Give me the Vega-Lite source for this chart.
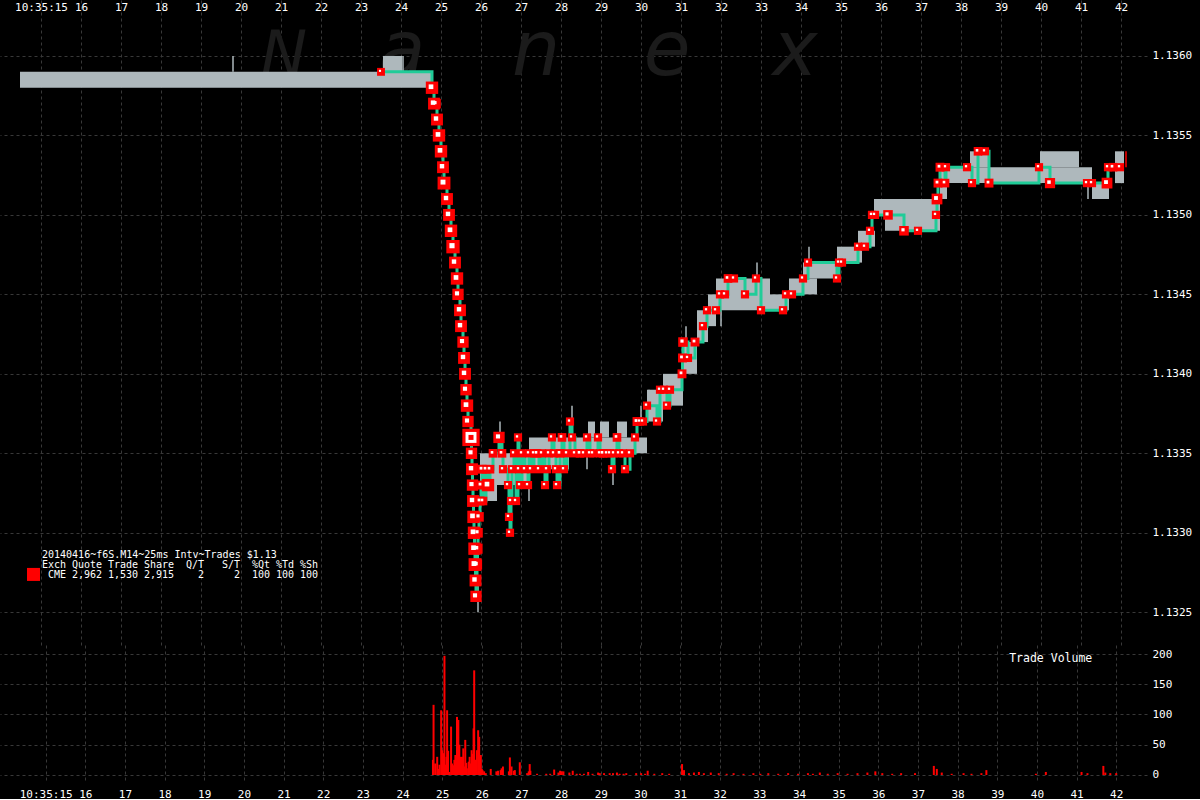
{
 "$schema": "https://vega.github.io/schema/vega-lite/v6.json",
 "background": "#000000",
 "padding": {"left": 0, "top": 0, "right": 8, "bottom": 0},
 "spacing": 0,
 "config": {
  "view": {"stroke": null},
  "font": "DejaVu Sans Mono",
  "axis": {"domain": false, "ticks": false, "labelColor": "#ffffff", "labelFont": "DejaVu Sans Mono", "labelFontSize": 11, "gridColor": "#383838", "gridDash": [3, 3], "gridWidth": 1}
 },
 "datasets": {
  "bands": [
   {"a":14.475,"b":24.775,"lo":1.1358,"hi":1.1359},
   {"a":23.55,"b":24.025,"lo":1.1359,"hi":1.1360},
   {"a":25.975,"b":26.4,"lo":1.1332,"hi":1.1335},
   {"a":26.4,"b":27.2,"lo":1.1333,"hi":1.1335},
   {"a":27.2,"b":28.2,"lo":1.1334,"hi":1.1336},
   {"a":28.2,"b":30.15,"lo":1.1335,"hi":1.1336},
   {"a":28.675,"b":28.85,"lo":1.1336,"hi":1.1337},
   {"a":28.975,"b":29.2,"lo":1.1336,"hi":1.1337},
   {"a":29.4,"b":29.65,"lo":1.1336,"hi":1.1337},
   {"a":30.15,"b":30.55,"lo":1.1337,"hi":1.1339},
   {"a":30.55,"b":31.05,"lo":1.1338,"hi":1.1340},
   {"a":31.05,"b":31.4,"lo":1.1340,"hi":1.1342},
   {"a":31.4,"b":31.675,"lo":1.1342,"hi":1.1344},
   {"a":31.675,"b":31.875,"lo":1.1343,"hi":1.1345},
   {"a":31.875,"b":33.225,"lo":1.1344,"hi":1.1346},
   {"a":33.225,"b":33.7,"lo":1.1344,"hi":1.1345},
   {"a":33.7,"b":34.4,"lo":1.1345,"hi":1.1346},
   {"a":34.05,"b":34.9,"lo":1.1346,"hi":1.1347},
   {"a":34.9,"b":35.525,"lo":1.1347,"hi":1.1348},
   {"a":35.425,"b":35.85,"lo":1.1348,"hi":1.1349},
   {"a":35.825,"b":36.1,"lo":1.1350,"hi":1.1351},
   {"a":36.1,"b":37.475,"lo":1.1349,"hi":1.1351},
   {"a":37.475,"b":37.65,"lo":1.1351,"hi":1.1353},
   {"a":37.65,"b":41.275,"lo":1.1352,"hi":1.1353},
   {"a":38.225,"b":38.725,"lo":1.1353,"hi":1.1354},
   {"a":39.975,"b":40.95,"lo":1.1353,"hi":1.1354},
   {"a":41.275,"b":41.7,"lo":1.1351,"hi":1.1352},
   {"a":41.85,"b":42.075,"lo":1.1352,"hi":1.1354}
  ],
  "wicks": [
   {"t":19.8,"lo":1.1359,"hi":1.1360},
   {"t":24.05,"lo":1.1359,"hi":1.1360},
   {"t":25.925,"lo":1.1325,"hi":1.1327},
   {"t":26.475,"lo":1.13355,"hi":1.1337},
   {"t":27.2,"lo":1.1332,"hi":1.1333},
   {"t":28.275,"lo":1.1337,"hi":1.1338},
   {"t":28.65,"lo":1.1334,"hi":1.1335},
   {"t":29.3,"lo":1.1333,"hi":1.1334},
   {"t":30.0,"lo":1.1337,"hi":1.1338},
   {"t":30.2,"lo":1.1338,"hi":1.1339},
   {"t":31.125,"lo":1.1342,"hi":1.1343},
   {"t":32.0,"lo":1.1343,"hi":1.1344},
   {"t":32.9,"lo":1.1346,"hi":1.1347},
   {"t":34.2,"lo":1.1347,"hi":1.1348},
   {"t":41.175,"lo":1.1351,"hi":1.1352}
  ],
  "redwicks": [
   {"t":42.125,"lo":1.1353,"hi":1.1354}
  ],
  "trades": [
   {"t":23.5,"p":1.1359,"v":3},
   {"t":24.775,"p":1.1358,"v":40},
   {"t":24.825,"p":1.1357,"v":35},
   {"t":24.875,"p":1.1357,"v":15},
   {"t":24.9,"p":1.1356,"v":35},
   {"t":24.95,"p":1.1355,"v":40},
   {"t":25.0,"p":1.1354,"v":40},
   {"t":25.05,"p":1.1353,"v":35},
   {"t":25.075,"p":1.1352,"v":45},
   {"t":25.15,"p":1.1351,"v":35},
   {"t":25.2,"p":1.1350,"v":35},
   {"t":25.25,"p":1.1349,"v":40},
   {"t":25.3,"p":1.1348,"v":50},
   {"t":25.35,"p":1.1347,"v":35},
   {"t":25.4,"p":1.1346,"v":40},
   {"t":25.425,"p":1.1345,"v":30},
   {"t":25.475,"p":1.1344,"v":35},
   {"t":25.5,"p":1.1343,"v":35},
   {"t":25.55,"p":1.1342,"v":30},
   {"t":25.575,"p":1.1341,"v":35},
   {"t":25.6,"p":1.1340,"v":35},
   {"t":25.625,"p":1.1339,"v":30},
   {"t":25.65,"p":1.1338,"v":40},
   {"t":25.675,"p":1.1337,"v":30},
   {"t":25.75,"p":1.1336,"v":100},
   {"t":25.7625,"p":1.1335,"v":30},
   {"t":25.775,"p":1.1334,"v":35},
   {"t":25.7875,"p":1.1333,"v":30},
   {"t":25.8,"p":1.1332,"v":35},
   {"t":25.8125,"p":1.1331,"v":40},
   {"t":25.825,"p":1.1330,"v":40},
   {"t":25.8375,"p":1.1329,"v":40},
   {"t":25.85,"p":1.1328,"v":45},
   {"t":25.8625,"p":1.1327,"v":35},
   {"t":25.875,"p":1.1326,"v":30},
   {"t":25.9,"p":1.1328,"v":20},
   {"t":25.9125,"p":1.1329,"v":20},
   {"t":25.925,"p":1.1330,"v":15},
   {"t":25.95,"p":1.1331,"v":15},
   {"t":25.975,"p":1.1332,"v":10},
   {"t":26.0,"p":1.1333,"v":10},
   {"t":26.025,"p":1.1334,"v":10},
   {"t":26.05,"p":1.1332,"v":8},
   {"t":26.125,"p":1.1334,"v":8},
   {"t":26.175,"p":1.1333,"v":40},
   {"t":26.225,"p":1.1334,"v":8},
   {"t":26.3,"p":1.1335,"v":8},
   {"t":26.45,"p":1.1336,"v":30},
   {"t":26.525,"p":1.1335,"v":8},
   {"t":26.55,"p":1.1334,"v":5},
   {"t":26.675,"p":1.1333,"v":5},
   {"t":26.7,"p":1.1331,"v":5},
   {"t":26.725,"p":1.1330,"v":5},
   {"t":26.75,"p":1.1332,"v":5},
   {"t":26.775,"p":1.1334,"v":5},
   {"t":26.825,"p":1.1335,"v":5},
   {"t":26.875,"p":1.1332,"v":5},
   {"t":26.925,"p":1.1336,"v":5},
   {"t":26.95,"p":1.1334,"v":5},
   {"t":26.975,"p":1.1333,"v":5},
   {"t":27.025,"p":1.1335,"v":5},
   {"t":27.1,"p":1.1334,"v":5},
   {"t":27.175,"p":1.1333,"v":5},
   {"t":27.2,"p":1.1335,"v":5},
   {"t":27.25,"p":1.1334,"v":5},
   {"t":27.325,"p":1.1335,"v":5},
   {"t":27.4,"p":1.1335,"v":8},
   {"t":27.45,"p":1.1334,"v":5},
   {"t":27.525,"p":1.1335,"v":5},
   {"t":27.6,"p":1.1333,"v":5},
   {"t":27.65,"p":1.1334,"v":5},
   {"t":27.7,"p":1.1335,"v":5},
   {"t":27.775,"p":1.1336,"v":5},
   {"t":27.825,"p":1.1335,"v":5},
   {"t":27.875,"p":1.1334,"v":5},
   {"t":27.9,"p":1.1333,"v":5},
   {"t":27.975,"p":1.1335,"v":8},
   {"t":28.025,"p":1.1336,"v":8},
   {"t":28.075,"p":1.1334,"v":5},
   {"t":28.15,"p":1.1335,"v":5},
   {"t":28.225,"p":1.1337,"v":5},
   {"t":28.275,"p":1.1336,"v":5},
   {"t":28.35,"p":1.1335,"v":5},
   {"t":28.475,"p":1.1335,"v":8},
   {"t":28.575,"p":1.1335,"v":5},
   {"t":28.65,"p":1.1336,"v":5},
   {"t":28.725,"p":1.1335,"v":5},
   {"t":28.8,"p":1.1335,"v":5},
   {"t":28.925,"p":1.1336,"v":5},
   {"t":28.975,"p":1.1335,"v":5},
   {"t":29.05,"p":1.1335,"v":8},
   {"t":29.15,"p":1.1335,"v":5},
   {"t":29.225,"p":1.1335,"v":5},
   {"t":29.275,"p":1.1334,"v":5},
   {"t":29.325,"p":1.1335,"v":5},
   {"t":29.4,"p":1.1336,"v":8},
   {"t":29.45,"p":1.1335,"v":5},
   {"t":29.55,"p":1.1335,"v":5},
   {"t":29.6,"p":1.1334,"v":5},
   {"t":29.725,"p":1.1335,"v":5},
   {"t":29.85,"p":1.1336,"v":5},
   {"t":29.9,"p":1.1337,"v":10},
   {"t":29.975,"p":1.1337,"v":5},
   {"t":30.05,"p":1.1337,"v":5},
   {"t":30.15,"p":1.1338,"v":5},
   {"t":30.4,"p":1.1337,"v":5},
   {"t":30.475,"p":1.1339,"v":5},
   {"t":30.575,"p":1.1339,"v":5},
   {"t":30.65,"p":1.1338,"v":5},
   {"t":30.725,"p":1.1339,"v":5},
   {"t":31.025,"p":1.1340,"v":10},
   {"t":31.0375,"p":1.1341,"v":10},
   {"t":31.05,"p":1.1342,"v":15},
   {"t":31.175,"p":1.1341,"v":5},
   {"t":31.35,"p":1.1342,"v":10},
   {"t":31.55,"p":1.1343,"v":5},
   {"t":31.65,"p":1.1344,"v":5},
   {"t":31.875,"p":1.1344,"v":5},
   {"t":31.975,"p":1.1345,"v":5},
   {"t":32.1,"p":1.1345,"v":5},
   {"t":32.175,"p":1.1346,"v":8},
   {"t":32.325,"p":1.1346,"v":5},
   {"t":32.6,"p":1.1345,"v":5},
   {"t":32.875,"p":1.1346,"v":5},
   {"t":33.0,"p":1.1344,"v":5},
   {"t":33.55,"p":1.1344,"v":5},
   {"t":33.625,"p":1.1345,"v":5},
   {"t":33.775,"p":1.1345,"v":5},
   {"t":34.05,"p":1.1346,"v":5},
   {"t":34.175,"p":1.1347,"v":5},
   {"t":34.9,"p":1.1346,"v":5},
   {"t":34.95,"p":1.1347,"v":5},
   {"t":35.025,"p":1.1347,"v":5},
   {"t":35.425,"p":1.1348,"v":5},
   {"t":35.6,"p":1.1348,"v":5},
   {"t":35.725,"p":1.1349,"v":5},
   {"t":35.775,"p":1.1350,"v":5},
   {"t":35.85,"p":1.1350,"v":5},
   {"t":36.175,"p":1.1350,"v":15},
   {"t":36.575,"p":1.1349,"v":15},
   {"t":36.925,"p":1.1349,"v":5},
   {"t":37.375,"p":1.1350,"v":5},
   {"t":37.4,"p":1.1351,"v":25},
   {"t":37.425,"p":1.1352,"v":10},
   {"t":37.475,"p":1.1353,"v":10},
   {"t":37.6,"p":1.1352,"v":8},
   {"t":37.625,"p":1.1353,"v":5},
   {"t":38.15,"p":1.1353,"v":5},
   {"t":38.275,"p":1.1352,"v":5},
   {"t":38.425,"p":1.1354,"v":8},
   {"t":38.6,"p":1.1354,"v":5},
   {"t":38.7,"p":1.1352,"v":10},
   {"t":39.95,"p":1.1353,"v":5},
   {"t":40.225,"p":1.1352,"v":20},
   {"t":41.15,"p":1.1352,"v":5},
   {"t":41.275,"p":1.1352,"v":5},
   {"t":41.65,"p":1.1352,"v":25},
   {"t":41.675,"p":1.1353,"v":5},
   {"t":41.8,"p":1.1353,"v":8},
   {"t":41.975,"p":1.1353,"v":5}
  ],
  "vol": [
   {"t":24.768,"v":25},{"t":24.783,"v":116},{"t":24.825,"v":19},{"t":24.875,"v":30},{"t":24.908,"v":10},{"t":24.933,"v":17},
   {"t":24.975,"v":107},{"t":25.0,"v":41},{"t":25.033,"v":36},{"t":25.058,"v":197},{"t":25.083,"v":17},{"t":25.108,"v":30},
   {"t":25.125,"v":107},{"t":25.15,"v":40},{"t":25.183,"v":5},{"t":25.225,"v":80},{"t":25.25,"v":19},{"t":25.283,"v":16},
   {"t":25.308,"v":25},{"t":25.333,"v":33},{"t":25.375,"v":96},{"t":25.408,"v":91},{"t":25.433,"v":50},{"t":25.458,"v":30},
   {"t":25.475,"v":19},{"t":25.5,"v":30},{"t":25.533,"v":44},{"t":25.558,"v":14},{"t":25.583,"v":58},{"t":25.608,"v":20},
   {"t":25.625,"v":11},{"t":25.668,"v":22},{"t":25.693,"v":30},{"t":25.708,"v":19},{"t":25.743,"v":41},{"t":25.768,"v":35},
   {"t":25.793,"v":77},{"t":25.808,"v":173},{"t":25.833,"v":25},{"t":25.85,"v":25},{"t":25.875,"v":41},{"t":25.908,"v":74},
   {"t":25.933,"v":63},{"t":25.958,"v":30},{"t":25.975,"v":33},{"t":26.0,"v":10},{"t":26.018,"v":8},{"t":26.058,"v":6},
   {"t":26.1,"v":3},{"t":26.225,"v":10},{"t":26.368,"v":6},{"t":26.408,"v":7},{"t":26.475,"v":8},{"t":26.5,"v":11},
   {"t":26.533,"v":14},{"t":26.683,"v":6},{"t":26.708,"v":29},{"t":26.75,"v":14},{"t":26.808,"v":7},{"t":26.833,"v":8},
   {"t":26.958,"v":21},{"t":27.143,"v":3},{"t":27.183,"v":6},{"t":27.208,"v":18},{"t":27.225,"v":7},{"t":27.393,"v":2},
   {"t":27.625,"v":2},{"t":27.725,"v":2},{"t":27.825,"v":9},{"t":27.933,"v":4},{"t":27.975,"v":7},{"t":28.018,"v":6},
   {"t":28.058,"v":6},{"t":28.208,"v":4},{"t":28.293,"v":7},{"t":28.393,"v":2},{"t":28.475,"v":2},{"t":28.575,"v":2},
   {"t":28.683,"v":5},{"t":28.793,"v":2},{"t":28.933,"v":4},{"t":28.975,"v":3},{"t":29.083,"v":3},{"t":29.225,"v":3},
   {"t":29.308,"v":3},{"t":29.408,"v":4},{"t":29.475,"v":2},{"t":29.575,"v":2},{"t":29.643,"v":3},{"t":29.893,"v":3},
   {"t":30.018,"v":3},{"t":30.118,"v":2},{"t":30.183,"v":7},{"t":30.35,"v":2},{"t":30.55,"v":3},{"t":30.725,"v":2},
   {"t":31.05,"v":18},{"t":31.1,"v":8},{"t":31.225,"v":3},{"t":31.35,"v":4},{"t":31.475,"v":5},{"t":31.6,"v":3},
   {"t":31.775,"v":4},{"t":31.975,"v":3},{"t":32.175,"v":2},{"t":32.35,"v":3},{"t":32.6,"v":2},{"t":32.85,"v":3},
   {"t":33.025,"v":2},{"t":33.225,"v":3},{"t":33.475,"v":2},{"t":33.725,"v":3},{"t":33.975,"v":2},{"t":34.225,"v":3},
   {"t":34.35,"v":2},{"t":34.525,"v":4},{"t":34.725,"v":2},{"t":34.975,"v":3},{"t":35.225,"v":2},{"t":35.475,"v":3},
   {"t":35.725,"v":4},{"t":35.925,"v":6},{"t":36.1,"v":3},{"t":36.35,"v":2},{"t":36.575,"v":3},{"t":36.925,"v":3},
   {"t":37.4,"v":15},{"t":37.475,"v":10},{"t":37.6,"v":4},{"t":37.85,"v":2},{"t":38.15,"v":3},{"t":38.35,"v":2},
   {"t":38.6,"v":3},{"t":38.725,"v":8},{"t":39.975,"v":2},{"t":40.225,"v":5},{"t":41.125,"v":5},{"t":41.275,"v":3},
   {"t":41.675,"v":15},{"t":41.725,"v":4},{"t":41.85,"v":3},{"t":42.0,"v":3}
  ],
  "wmN": [{"t":21.075,"p":1.13588,"s":"N"}],
  "wmL": [
   {"t":24.025,"p":1.13588,"s":"a"},
   {"t":27.375,"p":1.13588,"s":"n"},
   {"t":30.65,"p":1.13588,"s":"e"},
   {"t":33.85,"p":1.13588,"s":"x"}
  ],
  "legendText": [
   {"t":15.025,"p":1.1328607,"s":"20140416~f6S.M14~25ms Intv~Trades $1.13"},
   {"t":15.025,"p":1.1327977,"s":"Exch"},
   {"t":15.775,"p":1.1327977,"s":"Quote"},
   {"t":16.675,"p":1.1327977,"s":"Trade"},
   {"t":17.575,"p":1.1327977,"s":"Share"},
   {"t":18.625,"p":1.1327977,"s":"Q/T"},
   {"t":19.525,"p":1.1327977,"s":"S/T"},
   {"t":20.275,"p":1.1327977,"s":"%Qt"},
   {"t":20.875,"p":1.1327977,"s":"%Td"},
   {"t":21.475,"p":1.1327977,"s":"%Sh"},
   {"t":15.175,"p":1.1327348,"s":"CME"},
   {"t":15.775,"p":1.1327348,"s":"2,962"},
   {"t":16.675,"p":1.1327348,"s":"1,530"},
   {"t":17.575,"p":1.1327348,"s":"2,915"},
   {"t":18.925,"p":1.1327348,"s":"2"},
   {"t":19.825,"p":1.1327348,"s":"2"},
   {"t":20.275,"p":1.1327348,"s":"100"},
   {"t":20.875,"p":1.1327348,"s":"100"},
   {"t":21.475,"p":1.1327348,"s":"100"}
  ],
  "legendSwatch": [{"t":14.8125,"p":1.132738}],
  "volLabel": [{"t":39.3,"v":191.7,"s":"Trade Volume"}]
 },
 "vconcat": [
  {
   "width": 1147,
   "height": 645,
   "resolve": {"scale": {"size": "independent"}, "axis": {"x": "independent", "y": "independent"}},
   "layer": [
    {
     "data": {"name": "wmN"},
     "mark": {"type": "text", "font": "DejaVu Sans", "fontStyle": "italic", "fontSize": 62, "color": "#1b1b1b", "align": "center", "baseline": "alphabetic"},
     "encoding": {
      "x": {"field": "t", "type": "quantitative", "scale": {"domain": [13.975, 42.65], "nice": false, "zero": false}, "axis": {"orient": "bottom", "grid": true, "labels": false, "values": [15,16,17,18,19,20,21,22,23,24,25,26,27,28,29,30,31,32,33,34,35,36,37,38,39,40,41,42], "title": null}},
      "y": {"field": "p", "type": "quantitative", "scale": {"domain": [1.132294, 1.136352], "nice": false, "zero": false}, "axis": {"orient": "right", "grid": true, "values": [1.1325, 1.133, 1.1335, 1.134, 1.1345, 1.135, 1.1355, 1.136], "format": ".4f", "labelPadding": 5, "labelAlign": "left", "title": null}},
      "text": {"field": "s"}
     }
    },
    {
     "data": {"name": "wmL"},
     "mark": {"type": "text", "font": "DejaVu Sans", "fontStyle": "italic", "fontSize": 76, "color": "#1b1b1b", "align": "center", "baseline": "alphabetic"},
     "encoding": {
      "x": {"field": "t", "type": "quantitative", "axis": null},
      "y": {"field": "p", "type": "quantitative", "axis": null},
      "text": {"field": "s"}
     }
    },
    {
     "data": {"name": "bands"},
     "mark": {"type": "rect", "color": "#aeb8bc"},
     "encoding": {
      "x": {"field": "a", "type": "quantitative", "axis": null},
      "x2": {"field": "b"},
      "y": {"field": "lo", "type": "quantitative", "axis": null},
      "y2": {"field": "hi"}
     }
    },
    {
     "data": {"name": "wicks"},
     "mark": {"type": "rule", "color": "#aeb8bc", "strokeWidth": 1.5},
     "encoding": {
      "x": {"field": "t", "type": "quantitative", "axis": null},
      "y": {"field": "lo", "type": "quantitative", "axis": null},
      "y2": {"field": "hi"}
     }
    },
    {
     "data": {"name": "redwicks"},
     "mark": {"type": "rule", "color": "#ff0000", "strokeWidth": 1.5},
     "encoding": {
      "x": {"field": "t", "type": "quantitative", "axis": null},
      "y": {"field": "lo", "type": "quantitative", "axis": null},
      "y2": {"field": "hi"}
     }
    },
    {
     "data": {"name": "trades"},
     "mark": {"type": "line", "color": "#20cc98", "strokeWidth": 3, "interpolate": "step-after"},
     "encoding": {
      "x": {"field": "t", "type": "quantitative", "axis": {"orient": "top", "offset": -15, "grid": false, "labelPadding": 3, "values": [15,16,17,18,19,20,21,22,23,24,25,26,27,28,29,30,31,32,33,34,35,36,37,38,39,40,41,42], "labelExpr": "datum.value == 15 ? '10:35:15' : format(datum.value, 'd')", "title": null}},
      "y": {"field": "p", "type": "quantitative", "axis": null}
     }
    },
    {
     "data": {"name": "trades"},
     "mark": {"type": "point", "shape": "square", "filled": true, "color": "#ff0000", "opacity": 1, "strokeWidth": 0},
     "encoding": {
      "x": {"field": "t", "type": "quantitative", "axis": null},
      "y": {"field": "p", "type": "quantitative", "axis": null},
      "size": {"field": "v", "type": "quantitative", "scale": {"domain": [0, 100], "range": [55, 300]}, "legend": null}
     }
    },
    {
     "data": {"name": "trades"},
     "transform": [{"filter": "datum.v < 80"}],
     "mark": {"type": "point", "shape": "square", "filled": true, "color": "#ffffff", "opacity": 1, "strokeWidth": 0, "xOffset": -1, "yOffset": -1},
     "encoding": {
      "x": {"field": "t", "type": "quantitative", "axis": null},
      "y": {"field": "p", "type": "quantitative", "axis": null},
      "size": {"field": "v", "type": "quantitative", "scale": {"domain": [0, 100], "range": [3, 50]}, "legend": null}
     }
    },
    {
     "data": {"name": "trades"},
     "transform": [{"filter": "datum.v >= 80"}],
     "mark": {"type": "point", "shape": "square", "filled": true, "color": "#ffffff", "opacity": 1, "strokeWidth": 0, "size": 120},
     "encoding": {
      "x": {"field": "t", "type": "quantitative", "axis": null},
      "y": {"field": "p", "type": "quantitative", "axis": null}
     }
    },
    {
     "data": {"name": "trades"},
     "transform": [{"filter": "datum.v >= 80"}],
     "mark": {"type": "point", "shape": "square", "filled": true, "color": "#ff0000", "opacity": 1, "strokeWidth": 0, "size": 25},
     "encoding": {
      "x": {"field": "t", "type": "quantitative", "axis": null},
      "y": {"field": "p", "type": "quantitative", "axis": null}
     }
    },
    {
     "data": {"name": "legendText"},
     "mark": {"type": "text", "font": "DejaVu Sans Mono", "fontSize": 10, "color": "#ffffff", "align": "left", "baseline": "middle"},
     "encoding": {
      "x": {"field": "t", "type": "quantitative", "axis": null},
      "y": {"field": "p", "type": "quantitative", "axis": null},
      "text": {"field": "s"}
     }
    },
    {
     "data": {"name": "legendSwatch"},
     "mark": {"type": "point", "shape": "square", "filled": true, "color": "#ff0000", "opacity": 1, "strokeWidth": 0, "size": 169},
     "encoding": {
      "x": {"field": "t", "type": "quantitative", "axis": null},
      "y": {"field": "p", "type": "quantitative", "axis": null}
     }
    }
   ]
  },
  {
   "width": 1147,
   "height": 137,
   "resolve": {"axis": {"x": "independent", "y": "independent"}},
   "layer": [
    {
     "data": {"name": "vol"},
     "mark": {"type": "bar", "color": "#ff0000", "width": 2},
     "encoding": {
      "x": {"field": "t", "type": "quantitative", "scale": {"domain": [13.975, 42.65], "nice": false, "zero": false}, "axis": {"orient": "bottom", "grid": true, "labelPadding": 6, "values": [15,16,17,18,19,20,21,22,23,24,25,26,27,28,29,30,31,32,33,34,35,36,37,38,39,40,41,42], "labelExpr": "datum.value == 15 ? '10:35:15' : format(datum.value, 'd')", "title": null}},
      "y": {"field": "v", "type": "quantitative", "scale": {"domain": [-11.6, 214.9], "nice": false, "zero": false}, "axis": {"orient": "right", "grid": true, "values": [0, 50, 100, 150, 200], "labelPadding": 5, "labelAlign": "left", "title": null}}
     }
    },
    {
     "data": {"name": "volLabel"},
     "mark": {"type": "text", "font": "DejaVu Sans Mono", "fontSize": 11.5, "color": "#ffffff", "align": "left", "baseline": "middle"},
     "encoding": {
      "x": {"field": "t", "type": "quantitative", "axis": null},
      "y": {"field": "v", "type": "quantitative", "axis": null},
      "text": {"field": "s"}
     }
    }
   ]
  }
 ]
}
